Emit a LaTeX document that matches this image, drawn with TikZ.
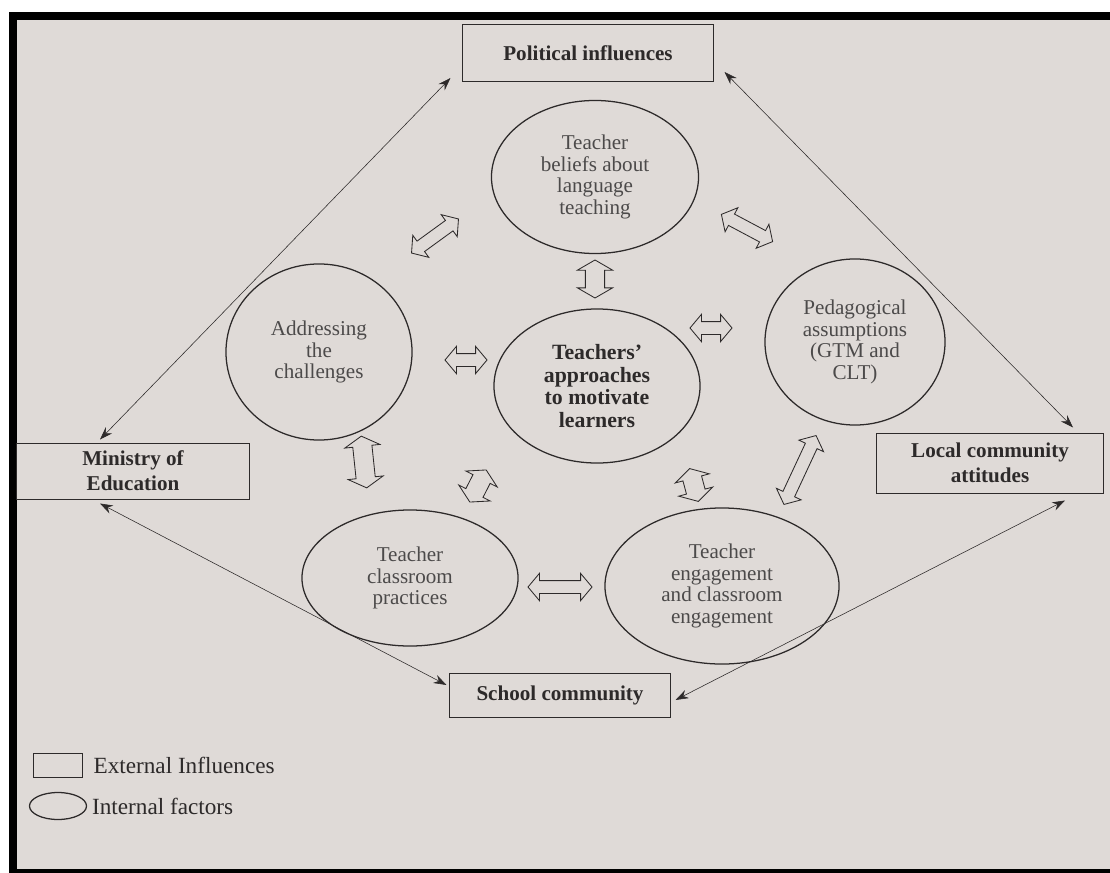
\documentclass[tikz,border=0pt]{standalone}
\usepackage{fontspec}
\setmainfont{Liberation Serif}
\usetikzlibrary{arrows.meta, shapes.geometric, shapes.arrows, calc, positioning}
\definecolor{paper}{RGB}{223,218,215}
\definecolor{ink}{RGB}{45,42,42}
\begin{document}
\begin{tikzpicture}[x = 0.025cm, y = -0.025cm, % one unit per pixel, y runs down
                > = {Stealth[length = 3.2mm, width = 2.2mm]}, % arrow head style
                font = \fontsize{15}{15.5}\selectfont,
                draw = ink, thin % line style
            ]

            \tikzstyle{factor}=[draw = ink, ellipse, line width = 0.9pt, align = center,
            inner sep = 0pt, text = ink!85]
            \tikzstyle{influence}=[draw = ink, rectangle, line width = 0.7pt, align = center,
            text = ink, font = \fontsize{15}{18}\selectfont\bfseries]
            \tikzstyle{twoway}=[draw = ink, double arrow, line width = 0.6pt, inner sep = 0.15cm,
            double arrow head extend = 0.18cm, double arrow tip angle = 100]
            \tikzstyle{fat}=[inner sep = 0.23cm, double arrow head extend = 0.2cm,
            double arrow tip angle = 120]

            % page and frame
            \useasboundingbox (0,0) rectangle (1110,873);
            \fill[white] (0,0) rectangle (1110,873);
            \fill[paper] (9,12) rectangle (1110,873);
            \fill[black] (9,12) rectangle (1110,20);
            \fill[black] (9,12) rectangle (17,873);
            \fill[black] (9,869) rectangle (1110,873);

            % external influences
            \node[influence, minimum width = 6.25cm, minimum height = 1.425cm] (pol) at (588,53) {Political influences};
            \node[influence, minimum width = 5.8cm, minimum height = 1.4cm] (moe) at (133,471) {Ministry of\\Education};
            \node[influence, minimum width = 5.65cm, minimum height = 1.5cm] (lca) at (990,463) {Local community\\attitudes};
            \node[influence, minimum width = 5.5cm, minimum height = 1.1cm] (sch) at (560,695) {School community};

            % internal factors
            \node[factor, minimum width = 5.175cm, minimum height = 3.825cm] (beliefs) at (595,177) {Teacher\\beliefs about\\language\\teaching};
            \node[factor, minimum width = 4.65cm, minimum height = 4.4cm] (challenges) at (319,352) {Addressing\\the\\challenges};
            \node[factor, minimum width = 5.15cm, minimum height = 3.85cm, text = ink,
            font = \fontsize{15.5}{16}\selectfont\bfseries] (approaches) at (597,386) {Teachers’\\approaches\\to motivate\\learners};
            \node[factor, minimum width = 4.5cm, minimum height = 4.15cm] (pedagogy) at (855,342) {Pedagogical\\assumptions\\(GTM and\\CLT)};
            \node[factor, minimum width = 5.4cm, minimum height = 3.4cm] (practices) at (410,578) {Teacher\\classroom\\practices};
            \node[factor, minimum width = 5.85cm, minimum height = 3.9cm] (engagement) at (722,586) {Teacher\\engagement\\and classroom\\engagement};

            % two-way block arrows between the factors
            \node[twoway, minimum height = 1.45cm, rotate = 36] (beliefs-challenges) at (435,236) {};
            \node[twoway, minimum height = 1.45cm, rotate = -28] (beliefs-pedagogy) at (747,228) {};
            \node[twoway, fat, minimum height = 0.95cm, rotate = 90] (beliefs-approaches) at (595,279) {};
            \node[twoway, minimum height = 1.05cm] (challenges-approaches) at (466,360) {};
            \node[twoway, minimum height = 1.05cm] (approaches-pedagogy) at (711,328) {};
            \node[twoway, fat, minimum height = 1.3cm, rotate = 96] (challenges-practices) at (364,462) {};
            \node[twoway, fat, minimum height = 0.9cm, rotate = 63] (approaches-practices) at (478,486) {};
            \node[twoway, fat, minimum height = 0.85cm, rotate = 105] (approaches-engagement) at (694,485) {};
            \node[twoway, minimum height = 1.9cm, rotate = 65] (pedagogy-engagement) at (800,470) {};
            \node[twoway, minimum height = 1.6cm] (practices-engagement) at (560,587) {};

            % thin links between the influences
            \path[<->] ($(pol.south west)+(-12,-4)$) edge ($(moe.north)+(-33,-3)$);
            \path[<->] ($(pol.south east)+(11,-10)$) edge ($(lca.north)+(83,-5)$);
            \path[<->] ($(moe.south)+(-33,4)$) edge ($(sch.west)+(-3,-10)$);
            \path[<->] ($(lca.south)+(75,7)$) edge ($(sch.east)+(5,5)$);

            % key
            \node[draw = ink, line width = 0.7pt, minimum width = 1.225cm, minimum height = 0.6cm] (keybox) at (58,765) {};
            \node[right = 4pt of keybox, text = ink, font = \fontsize{16.5}{19}\selectfont] (keyboxtext) {External Influences};
            \node[draw = ink, ellipse, line width = 0.9pt, minimum width = 1.425cm, minimum height = 0.675cm] (keyellipse) at (58,806) {};
            \node[right = 0pt of keyellipse, text = ink, font = \fontsize{16.5}{19}\selectfont] (keyellipsetext) {Internal factors};
\end{tikzpicture}
\end{document}
